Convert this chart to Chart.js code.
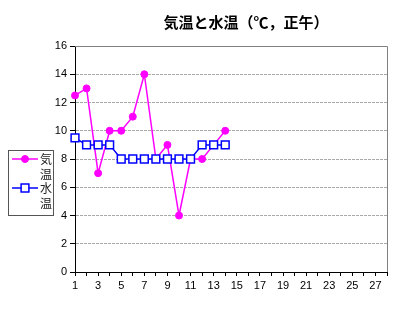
<!DOCTYPE html>
<html>
<head>
<meta charset="utf-8">
<script src="https://cdn.jsdelivr.net/npm/chart.js@4/dist/chart.umd.min.js"></script>
<style>
  html, body { margin: 0; padding: 0; background: #fff; }
  #wrap { width: 407px; height: 319px; }
</style>
</head>
<body>
<div id="wrap"><canvas id="myChart" width="407" height="319"></canvas></div>
<script>
const chartTitle = '気温と水温（℃，正午）';
const days = ['1', '2', '3', '4', '5', '6', '7', '8', '9', '10', '11', '12', '13', '14',
              '15', '16', '17', '18', '19', '20', '21', '22', '23', '24', '25', '26', '27', '28'];
const airTemp = [12.5, 13, 7, 10, 10, 11, 14, 8, 9, 4, 8, 8, 9, 10];
const waterTemp = [9.5, 9, 9, 9, 8, 8, 8, 8, 8, 8, 8, 9, 9, 9];
const seriesNames = ['気温', '水温'];

const jpFont = '"Noto Sans CJK JP", sans-serif';
const numFont = '"Liberation Sans", Arial, sans-serif';

// title, legend box and the gray plot frame drawn by hand
const chartDecor = {
    id: 'chartDecor',
    beforeDatasetsDraw(chart) {
        const { ctx, chartArea: a } = chart;
        ctx.save();
        ctx.strokeStyle = '#808080';
        ctx.lineWidth = 1;
        ctx.beginPath();
        ctx.moveTo(a.left, a.top + 0.5);
        ctx.lineTo(a.right + 0.5, a.top + 0.5);
        ctx.lineTo(a.right + 0.5, a.bottom);
        ctx.stroke();
        ctx.restore();
    },
    afterDraw(chart) {
        const ctx = chart.ctx;
        ctx.save();
        ctx.fillStyle = '#000';
        ctx.font = 'bold 15px ' + jpFont;
        ctx.textAlign = 'center';
        ctx.textBaseline = 'middle';
        ctx.fillText(chartTitle, 246, 22);

        ctx.strokeStyle = '#555';
        ctx.lineWidth = 1;
        ctx.strokeRect(8.5, 150.5, 45, 65);

        chart.data.datasets.forEach((ds, i) => {
            const y0 = 159 + i * 29;
            ctx.strokeStyle = ds.borderColor;
            ctx.lineWidth = ds.borderWidth;
            ctx.beginPath();
            ctx.moveTo(12, y0);
            ctx.lineTo(38, y0);
            ctx.stroke();
            ctx.fillStyle = ds.pointBackgroundColor;
            ctx.strokeStyle = ds.borderColor;
            ctx.lineWidth = ds.pointBorderWidth;
            Chart.helpers.drawPoint(ctx, {
                pointStyle: ds.pointStyle,
                radius: ds.pointRadius,
                rotation: 0,
                borderWidth: ds.pointBorderWidth
            }, 25, y0);
            ctx.fillStyle = '#222';
            ctx.font = '12px ' + jpFont;
            ctx.textAlign = 'left';
            Array.from(ds.label).forEach((ch, k) => {
                ctx.fillText(ch, 40, y0 + k * 15);
            });
        });
        ctx.restore();
    }
};

const ctx = document.getElementById('myChart').getContext('2d');

new Chart(ctx, {
    type: 'line',
    data: {
        labels: days,
        datasets: [{
            label: seriesNames[0],
            data: airTemp,
            borderColor: '#FF00FF',
            backgroundColor: '#FF00FF',
            pointBackgroundColor: '#FF00FF',
            borderWidth: 1.5,
            pointStyle: 'circle',
            pointRadius: 3.5,
            pointBorderWidth: 1,
            tension: 0,
            order: 1
        }, {
            label: seriesNames[1],
            data: waterTemp,
            borderColor: '#0000FF',
            backgroundColor: '#FFFFFF',
            pointBackgroundColor: '#FFFFFF',
            borderWidth: 1.5,
            pointStyle: 'rect',
            pointRadius: 5.5,
            pointBorderWidth: 1.5,
            tension: 0,
            order: 0
        }]
    },
    options: {
        responsive: false,
        animation: false,
        layout: { padding: { left: 0, top: 46, right: 20, bottom: 0 } },
        plugins: {
            legend: { display: false },
            title: { display: false },
            tooltip: { enabled: false }
        },
        scales: {
            x: {
                type: 'category',
                offset: false,
                afterFit(scale) { scale.height = 47; },
                border: { color: '#000', width: 1 },
                grid: { drawOnChartArea: false, tickLength: 4, tickColor: '#000' },
                ticks: {
                    autoSkip: false,
                    maxRotation: 0,
                    padding: 3,
                    color: '#000',
                    font: { family: numFont, size: 11 },
                    callback(v, i) { return i % 2 === 0 ? days[i] : ''; }
                }
            },
            y: {
                min: 0,
                max: 16,
                afterFit(scale) { scale.width = 75; },
                border: { color: '#000', width: 1, dash: [3, 1] },
                grid: {
                    color: (c) => (c.tick && c.tick.value === 16) ? 'rgba(0,0,0,0)' : '#a8a8a8',
                    lineWidth: 1,
                    tickLength: 5,
                    tickColor: '#000',
                    tickBorderDash: [],
                    drawTicks: true
                },
                ticks: {
                    stepSize: 2,
                    padding: 3,
                    color: '#000',
                    font: { family: numFont, size: 11 }
                }
            }
        }
    },
    plugins: [chartDecor]
});
</script>
</body>
</html>
